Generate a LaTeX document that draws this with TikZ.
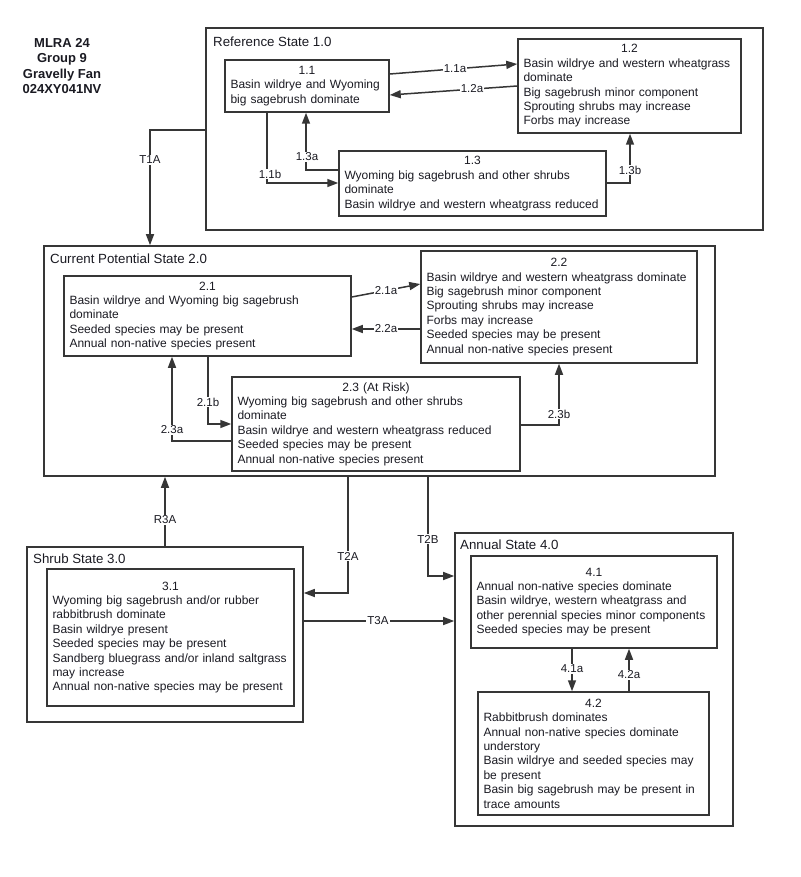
\documentclass[tikz,border=0pt]{standalone}
\usepackage{fontspec}
\setmainfont{Liberation Sans}
\usetikzlibrary{arrows.meta}
\definecolor{ln}{HTML}{363636}
\definecolor{tx}{HTML}{1A1A22}
\tikzset{
  frame/.style={draw=ln, line width=1.6pt, inner sep=0pt},
  phase/.style={draw=ln, line width=1.5pt, inner xsep=5.5pt, inner ysep=1pt,
    align=left, text=tx, font=\fontsize{12}{14.4}\selectfont},
  stitle/.style={text=tx, inner sep=0pt, anchor=west, font=\fontsize{13.3}{16}\selectfont},
  conn/.style={draw=ln, line width=1.5pt, -{Triangle[length=11pt,width=8pt]}},
  lbl/.style={fill=white, inner sep=1pt, text=tx, font=\fontsize{11.5}{13}\selectfont},
}
\newcommand\hd[1]{\makebox[\linewidth][c]{#1}\\}
\newcommand\tl[1]{\mbox{#1}}
\begin{document}
\begin{tikzpicture}[x=1pt,y=-1pt]
\useasboundingbox (0,0) rectangle (800,877);

% title
\node[align=center, text=tx, font=\bfseries\fontsize{13}{15.4}\selectfont] (title) at (62,66)
  {MLRA 24\\Group 9\\Gravelly Fan\\024XY041NV};

% state frames
\node[frame, minimum width=557pt, minimum height=202pt] (s1) at (484.5,129) {};
\node[stitle] (s1t) at (213,42) {Reference State 1.0};
\node[frame, minimum width=671pt, minimum height=230pt] (s2) at (379.5,361) {};
\node[stitle] (s2t) at (50,259) {Current Potential State 2.0};
\node[frame, minimum width=276pt, minimum height=175pt] (s3) at (165,634.5) {};
\node[stitle] (s3t) at (33,559) {Shrub State 3.0};
\node[frame, minimum width=278pt, minimum height=293pt] (s4) at (594,679.5) {};
\node[stitle] (s4t) at (460,545) {Annual State 4.0};

% community phases
\node[phase, text width=153pt, minimum height=52pt] (b11) at (307,86)
  {\hd{1.1}\tl{Basin wildrye and Wyoming}\\\tl{big sagebrush dominate}};
\node[phase, text width=212pt, minimum height=94pt] (b12) at (629.5,86)
  {\hd{1.2}\tl{Basin wildrye and western wheatgrass}\\\tl{dominate}\\\tl{Big sagebrush minor component}\\\tl{Sprouting shrubs may increase}\\\tl{Forbs may increase}};
\node[phase, text width=256pt, minimum height=65pt] (b13) at (472.5,183.5)
  {\hd{1.3}\tl{Wyoming big sagebrush and other shrubs}\\\tl{dominate}\\\tl{Basin wildrye and western wheatgrass reduced}};

\node[phase, text width=276pt, minimum height=80pt] (b21) at (207.5,316)
  {\hd{2.1}\tl{Basin wildrye and Wyoming big sagebrush}\\\tl{dominate}\\\tl{Seeded species may be present}\\\tl{Annual non-native species present}};
\node[phase, text width=265pt, minimum height=112pt] (b22) at (559,307)
  {\hd{2.2}\tl{Basin wildrye and western wheatgrass dominate}\\\tl{Big sagebrush minor component}\\\tl{Sprouting shrubs may increase}\\\tl{Forbs may increase}\\\tl{Seeded species may be present}\\\tl{Annual non-native species present}};
\node[phase, text width=277pt, minimum height=94pt] (b23) at (376,424)
  {\hd{2.3 (At Risk)}\tl{Wyoming big sagebrush and other shrubs}\\\tl{dominate}\\\tl{Basin wildrye and western wheatgrass reduced}\\\tl{Seeded species may be present}\\\tl{Annual non-native species present}};

\node[phase, text width=236pt, minimum height=137pt] (b31) at (170.5,637.5)
  {\hd{3.1}\tl{Wyoming big sagebrush and/or rubber}\\\tl{rabbitbrush dominate}\\\tl{Basin wildrye present}\\\tl{Seeded species may be present}\\\tl{Sandberg bluegrass and/or inland saltgrass}\\\tl{may increase}\\\tl{Annual non-native species may be present}};

\node[phase, text width=235pt, minimum height=92pt] (b41) at (594,602)
  {\hd{4.1}\tl{Annual non-native species dominate}\\\tl{Basin wildrye, western wheatgrass and}\\\tl{other perennial species minor components}\\\tl{Seeded species may be present}};
\node[phase, text width=220pt, minimum height=123pt] (b42) at (593.5,753.5)
  {\hd{4.2}\tl{Rabbitbrush dominates}\\\tl{Annual non-native species dominate}\\\tl{understory}\\\tl{Basin wildrye and seeded species may}\\\tl{be present}\\\tl{Basin big sagebrush may be present in}\\\tl{trace amounts}};

% connectors
\draw[conn] (b11.east |- 0,74) -- (b12.west |- 0,64);
\draw[conn] (b12.west |- 0,86) -- (b11.east |- 0,95);
\draw[conn] (b11.south -| 267,0) |- (b13.west |- 0,183);
\draw[conn] (b13.west |- 0,170) -| (b11.south -| 306,0);
\draw[conn] (b13.east |- 0,183) -| (b12.south -| 630,0);
\draw[conn] (s1.west |- 0,130) -| (s2.north -| 150,0);

\draw[conn] (b21.east |- 0,297) -- (b22.west |- 0,284);
\draw[conn] (b22.west |- 0,329) -- (b21.east |- 0,329);
\draw[conn] (b21.south -| 208,0) |- (b23.west |- 0,424);
\draw[conn] (b23.west |- 0,441) -| (b21.south -| 172,0);
\draw[conn] (b23.east |- 0,425) -| (b22.south -| 559,0);

\draw[conn] (s3.north -| 165,0) -- (s2.south -| 165,0);
\draw[conn] (s2.south -| 348,0) |- (s3.east |- 0,593);
\draw[conn] (s2.south -| 428,0) |- (s4.west |- 0,576);
\draw[conn] (s3.east |- 0,621) -- (s4.west |- 0,621);
\draw[conn] (b41.south -| 572,0) -- (b42.north -| 572,0);
\draw[conn] (b42.north -| 629,0) -- (b41.south -| 629,0);

% labels
\node[lbl] (l11a) at (455,69) {1.1a};
\node[lbl] (l12a) at (472,89) {1.2a};
\node[lbl] (l11b) at (270,174) {1.1b};
\node[lbl] (l13a) at (307,157) {1.3a};
\node[lbl] (l13b) at (630,170) {1.3b};
\node[lbl] (lT1A) at (150,160) {T1A};
\node[lbl] (l21a) at (386,291) {2.1a};
\node[lbl] (l22a) at (386,329) {2.2a};
\node[lbl] (l21b) at (208,402) {2.1b};
\node[lbl] (l23a) at (172,430) {2.3a};
\node[lbl] (l23b) at (559,414) {2.3b};
\node[lbl] (lR3A) at (165,520) {R3A};
\node[lbl] (lT2A) at (348,556) {T2A};
\node[lbl] (lT2B) at (428,539) {T2B};
\node[lbl] (lT3A) at (378,621) {T3A};
\node[lbl] (l41a) at (572,669) {4.1a};
\node[lbl] (l42a) at (629,675) {4.2a};
\end{tikzpicture}
\end{document}
